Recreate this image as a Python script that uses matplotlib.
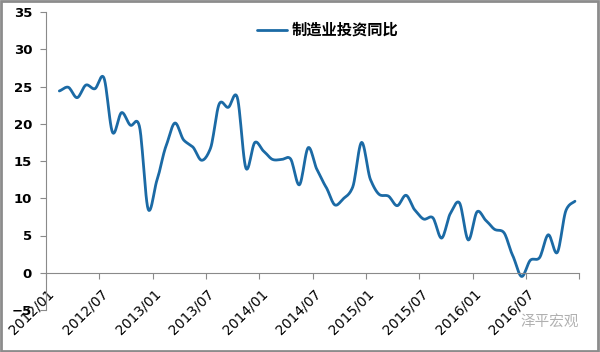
import numpy as np
import matplotlib
matplotlib.use("Agg")
import matplotlib.pyplot as plt
from matplotlib.patches import Rectangle
from matplotlib.transforms import ScaledTranslation

plt.rcParams['font.family'] = ['DejaVu Sans']

# monthly data, 2012/02 .. 2016/12
months = [f"{y}/{m:02d}" for y in range(2012, 2017) for m in range(1, 13)][1:]
values = [24.4, 24.9, 23.5, 25.2, 24.7, 26.2, 18.8, 21.5, 19.8, 19.7, 8.5,
          12.5, 17.0, 20.1, 17.8, 16.9, 15.1, 16.7, 22.7, 22.2, 23.6, 14.0,
          17.5, 16.3, 15.2, 15.2, 15.3, 11.8, 16.8, 13.8, 11.5, 9.1, 10.0,
          11.5, 17.5, 12.5, 10.5, 10.3, 9.0, 10.4, 8.4, 7.2, 7.4, 4.65,
          8.0, 9.4, 4.4, 8.2, 7.0, 5.8, 5.4, 2.3, -0.5, 1.7, 2.0,
          5.1, 2.7, 8.4, 9.6]
tick_labels = ["2012/01", "2012/07", "2013/01", "2013/07", "2014/01",
               "2014/07", "2015/01", "2015/07", "2016/01", "2016/07", ""]
series_name = "制造业投资同比"


def smooth(x, y, n=12, k=0.8):
    # hermite curve with damped catmull-rom tangents (like excel's smoothed line)
    x = np.asarray(x, float)
    y = np.asarray(y, float)
    m = np.zeros_like(y)
    m[1:-1] = (y[2:] - y[:-2]) / 2 * k
    m[0] = (y[1] - y[0]) * k
    m[-1] = (y[-1] - y[-2]) * k
    t = np.linspace(0, 1, n, endpoint=False)
    h00 = 2 * t ** 3 - 3 * t ** 2 + 1
    h10 = t ** 3 - 2 * t ** 2 + t
    h01 = -2 * t ** 3 + 3 * t ** 2
    h11 = t ** 3 - t ** 2
    xs, ys = [], []
    for i in range(len(y) - 1):
        xs.append(x[i] + (x[i + 1] - x[i]) * t)
        ys.append(h00 * y[i] + h10 * m[i] + h01 * y[i + 1] + h11 * m[i + 1])
    xs.append([x[-1]])
    ys.append([y[-1]])
    return np.concatenate(xs), np.concatenate(ys)


fig = plt.figure(figsize=(6, 3.52), dpi=100)
ax = fig.add_axes([46 / 600, 1 - 310 / 352, 533.4 / 600, 298 / 352])

xpos = np.arange(1, len(values) + 1) + 0.5
sx, sy = smooth(xpos, values)
ax.plot(sx, sy, color="#1b6aa5", lw=2.0, label=series_name, solid_capstyle="round")

ax.set_xlim(0, 60)
ax.set_ylim(-5, 35)
ax.set_yticks(range(-5, 36, 5))
ax.set_xticks(range(0, 61, 6))
ax.set_xticklabels(tick_labels)

gray = "#8a8a8a"
for s in ["top", "right"]:
    ax.spines[s].set_visible(False)
ax.spines["bottom"].set_position(("data", 0))
ax.spines["bottom"].set_color(gray)
ax.spines["left"].set_color(gray)
ax.tick_params(axis="x", direction="out", length=4, color=gray, pad=6)
ax.tick_params(axis="y", direction="out", length=4, color=gray, pad=6)

shift = ScaledTranslation(1 / 100, 0, fig.dpi_scale_trans)
for lab in ax.get_xticklabels():
    lab.set_rotation(45)
    lab.set_ha("right")
    lab.set_va("top")
    lab.set_rotation_mode("anchor")
    lab.set_fontsize(10)
    lab.set_transform(lab.get_transform() + shift)
for lab in ax.get_yticklabels():
    lab.set_fontweight("bold")
    lab.set_fontsize(9.5)

leg = ax.legend(loc="center left", bbox_to_anchor=(257 / 600, 1 - 30 / 352),
                bbox_transform=fig.transFigure, frameon=False,
                borderpad=0, borderaxespad=0,
                handlelength=1.95, handletextpad=0.3,
                prop={"family": ["Noto Sans CJK SC", "DejaVu Sans"], "weight": "bold", "size": 11})

fig.text(0.965, 0.085, "泽平宏观", color="#b0b0b0", ha="right", va="center",
         fontsize=10.5, family=["Noto Sans CJK SC", "DejaVu Sans"])

fig.patches.append(Rectangle((0.002, 0.003), 0.995, 0.994, transform=fig.transFigure,
                             fill=False, edgecolor="#8c8c8c", lw=2))

fig.savefig("out.png", dpi=100)
